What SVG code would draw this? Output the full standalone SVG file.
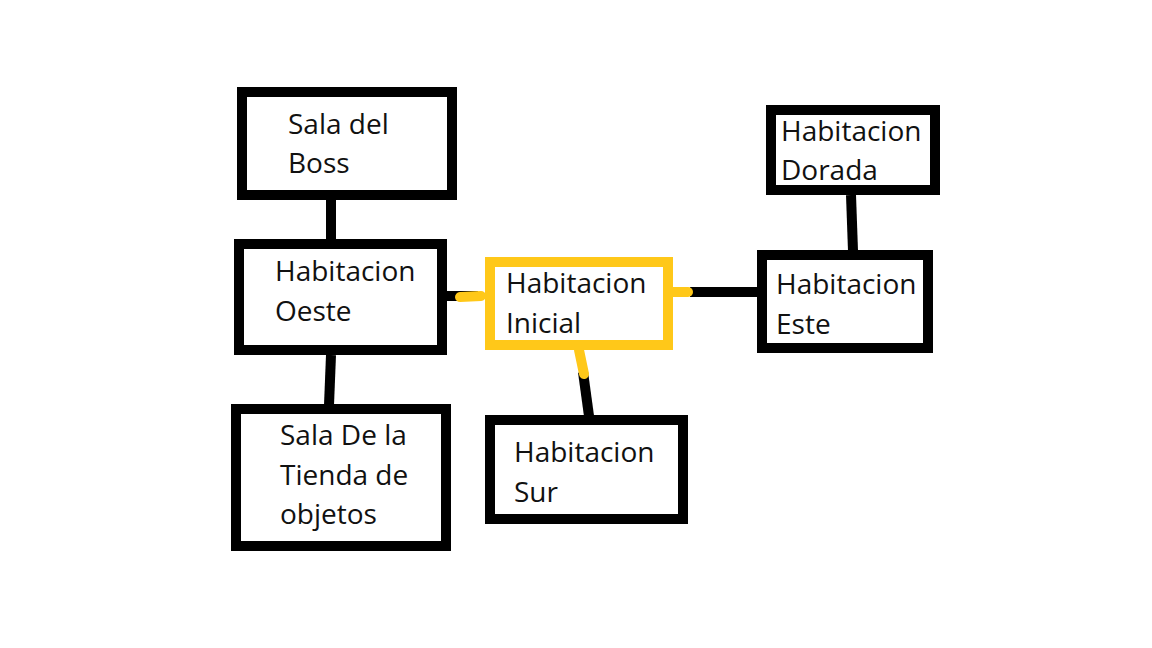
<svg xmlns="http://www.w3.org/2000/svg" width="1152" height="648" viewBox="0 0 1152 648">
<style>
.box{fill:#fff;stroke:#000;stroke-width:10}
.start{fill:#fff;stroke:#FFC819;stroke-width:10}
.lbl{font-family:"Open Sans","Noto Sans",sans-serif;font-size:28px;fill:#111}
.c{stroke:#000;stroke-width:10;fill:none}
.cy{stroke:#FFC819;stroke-width:10;fill:none;stroke-linecap:round}
</style>
<rect width="1152" height="648" fill="#fff"/>
<g id="connectors">
<line class="c" x1="331" y1="200" x2="331" y2="240"/>
<circle cx="331" cy="192" r="5" fill="#000"/>
<line class="c" x1="331" y1="355" x2="329" y2="405"/>
<line class="c" x1="447" y1="296" x2="478" y2="296"/>
<line class="cy" x1="460" y1="297" x2="481" y2="296"/>
<line class="c" x1="690" y1="292" x2="759" y2="292"/>
<line class="cy" x1="673" y1="292" x2="688" y2="292"/>
<line class="c" x1="583" y1="372" x2="589" y2="416"/>
<line class="cy" x1="579" y1="350" x2="584" y2="374"/>
<line class="c" x1="851" y1="195" x2="853" y2="251"/>
</g>
<g id="boss">
<rect class="box" x="242" y="92" width="210" height="103"/>
<text class="lbl" x="288" y="134">Sala del</text>
<text class="lbl" x="288" y="173">Boss</text>
</g>
<g id="oeste">
<rect class="box" x="239" y="244" width="203" height="106"/>
<text class="lbl" x="275" y="281">Habitacion</text>
<text class="lbl" x="275" y="321">Oeste</text>
</g>
<g id="tienda">
<rect class="box" x="236" y="409" width="210" height="137"/>
<text class="lbl" x="280" y="445">Sala De la</text>
<text class="lbl" x="280" y="485">Tienda de</text>
<text class="lbl" x="280" y="524">objetos</text>
</g>
<g id="inicial">
<rect class="start" x="490" y="262" width="178" height="83"/>
<text class="lbl" x="506" y="293">Habitacion</text>
<text class="lbl" x="506" y="333">Inicial</text>
</g>
<g id="sur">
<rect class="box" x="490" y="420" width="193" height="99"/>
<text class="lbl" x="514" y="462">Habitacion</text>
<text class="lbl" x="514" y="502">Sur</text>
</g>
<g id="dorada">
<rect class="box" x="771" y="110" width="164" height="80"/>
<text class="lbl" x="781" y="141">Habitacion</text>
<text class="lbl" x="781" y="180">Dorada</text>
</g>
<g id="este">
<rect class="box" x="762" y="255" width="166" height="93"/>
<text class="lbl" x="776" y="294">Habitacion</text>
<text class="lbl" x="776" y="334">Este</text>
</g>
</svg>
